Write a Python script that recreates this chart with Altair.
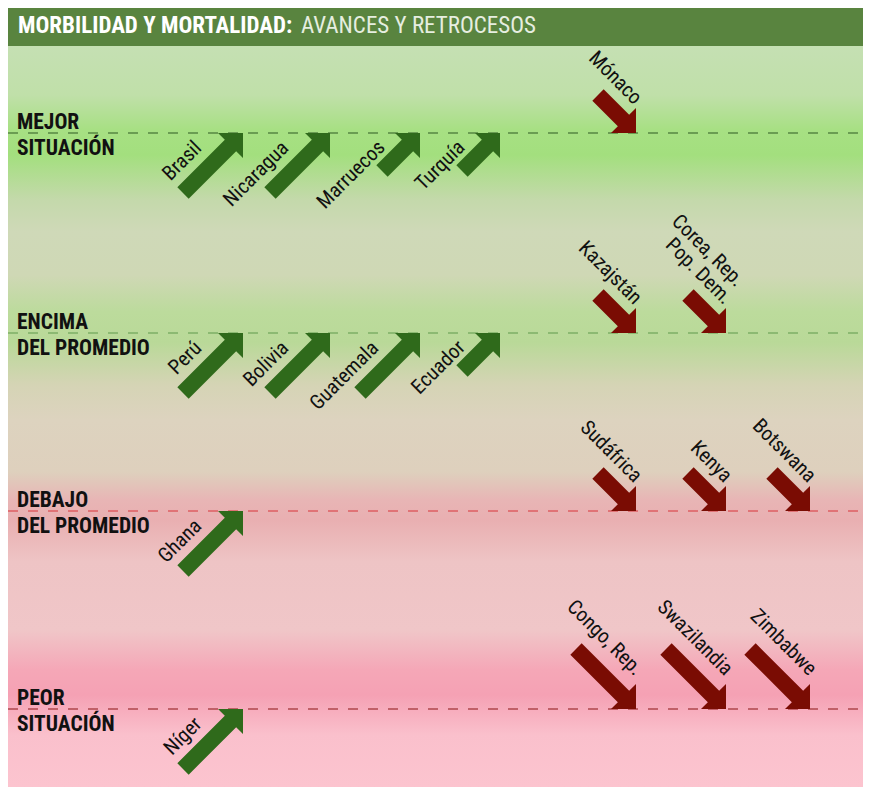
import math
import altair as alt
import pandas as pd

# ---------------- data ----------------
titulo_a = "MORBILIDAD Y MORTALIDAD:"
titulo_b = "AVANCES Y RETROCESOS"

filas = ["MEJOR\nSITUACIÓN", "ENCIMA\nDEL PROMEDIO", "DEBAJO\nDEL PROMEDIO", "PEOR\nSITUACIÓN"]
fila_num = [1, 2, 3, 4]

paises = ["Brasil", "Nicaragua", "Marruecos", "Turquía", "Mónaco",
          "Perú", "Bolivia", "Guatemala", "Ecuador", "Kazajstán", "Corea, Rep.\nPop. Dem.",
          "Ghana", "Sudáfrica", "Kenya", "Botswana",
          "Níger", "Congo, Rep.", "Swazilandia", "Zimbabwe"]
fila = [1, 1, 1, 1, 1,
        2, 2, 2, 2, 2, 2,
        3, 3, 3, 3,
        4, 4, 4, 4]
columna = [1, 2, 3, 4, 5,
           1, 2, 3, 4, 5, 6,
           1, 5, 6, 7,
           1, 5, 6, 7]
tendencia = ["sube", "sube", "sube", "sube", "baja",
             "sube", "sube", "sube", "sube", "baja", "baja",
             "sube", "baja", "baja", "baja",
             "sube", "baja", "baja", "baja"]
magnitud = ["grande", "grande", "pequeña", "pequeña", "pequeña",
            "grande", "grande", "grande", "pequeña", "pequeña", "pequeña",
            "grande", "pequeña", "pequeña", "pequeña",
            "grande", "grande", "grande", "grande"]

# ---------------- layout / style ----------------
W, H = 855, 779
FONT = "Liberation Sans Narrow, Arial Narrow, Roboto Condensed, DejaVu Sans Condensed, sans-serif"
GREEN = "#2f6a1b"
RED = "#7a0c03"

ROW_PX = [125, 325, 503, 701]
COL_PX = [235, 322, 412, 492, 628, 718, 802]


def arrow_path(L, up, head=25.0, width=16.0):
    r2 = math.sqrt(2)
    k = width / (2 * r2)
    pts = [(0, 0), (-head, 0),
           (-head / 2 - k, head / 2 - k),
           (-L - k, L - k),
           (-L + k, L + k),
           (-head / 2 + k, head / 2 + k),
           (0, head)]
    if not up:
        pts = [(x, -y) for x, y in pts]
    return "M" + " L".join(f"{x:.2f},{y:.2f}" for x, y in pts) + " Z"


LONG, SHORT = 60, 38
shape_dom = ["sube-grande", "sube-pequeña", "baja-grande", "baja-pequeña"]
shape_rng = [arrow_path(LONG, True), arrow_path(SHORT, True),
             arrow_path(LONG, False), arrow_path(SHORT, False)]

df = pd.DataFrame({"pais": paises, "fila": fila, "columna": columna,
                   "tendencia": tendencia, "magnitud": magnitud})
df["forma"] = df["tendencia"] + "-" + df["magnitud"]

rows = []
for _, r in df.iterrows():
    lines = r["pais"].split("\n")
    for i, t in enumerate(reversed(lines)):
        rows.append({"texto": t, "linea": i, "fila": r["fila"], "columna": r["columna"],
                     "tendencia": r["tendencia"], "magnitud": r["magnitud"]})
lab = pd.DataFrame(rows)

df_filas = pd.DataFrame({"fila": fila_num, "nombre": filas})
one = pd.DataFrame({"a": [0]})

xenc = alt.X("columna:Q", axis=None,
             scale=alt.Scale(domain=[1, 2, 3, 4, 5, 6, 7], range=COL_PX, zero=False, nice=False))
yenc = alt.Y("fila:Q", axis=None,
             scale=alt.Scale(domain=fila_num, range=ROW_PX, zero=False, nice=False))

# background gradient
stops_y = [46, 95, 130, 155, 200, 232, 275, 312, 342, 385, 420, 472, 500, 520, 562, 630, 670, 695, 735, 787]
stops_c = ["#c5e0b3", "#c0e0a9", "#a7e083", "#a3df7e", "#c4d9ab", "#cfd9b8", "#cfd8b5", "#bcdb9c",
           "#b9d998", "#d5d4b5", "#ddd3bf", "#ded0bd", "#e8b5b5", "#e9afb1", "#eec4c5", "#f0c6c8",
           "#f5a7b7", "#f5a1b4", "#fac0cc", "#fcc4cf"]
grad = alt.Gradient(gradient="linear", x1=0, y1=0, x2=0, y2=1,
                    stops=[alt.GradientStop(color=c, offset=(y - 46) / (787 - 46))
                           for y, c in zip(stops_y, stops_c)])
bg = alt.Chart(one).mark_rect(fill=grad).encode(
    x=alt.value(0), x2=alt.value(W), y=alt.value(38), y2=alt.value(H))

bar = alt.Chart(one).mark_rect(fill="#59843f").encode(
    x=alt.value(0), x2=alt.value(W), y=alt.value(0), y2=alt.value(38))

reglas = alt.Chart(df_filas).mark_rule(strokeDash=[10, 10], strokeWidth=1.2).encode(
    x=alt.value(0), x2=alt.value(W), y=yenc,
    stroke=alt.Stroke("nombre:N", legend=None,
                      scale=alt.Scale(domain=filas, range=["#2f5a22", "#5e9a4c", "#d8353a", "#8c1414"])))

flechas = alt.Chart(df).mark_point(filled=True, opacity=1, size=4, strokeWidth=0).encode(
    x=xenc, y=yenc,
    shape=alt.Shape("forma:N", legend=None, scale=alt.Scale(domain=shape_dom, range=shape_rng)),
    color=alt.Color("tendencia:N", legend=None,
                    scale=alt.Scale(domain=["sube", "baja"], range=[GREEN, RED])))


def etiquetas(filtro, angle, dx, dy):
    return alt.Chart(lab).transform_filter(filtro).mark_text(
        angle=angle, align="right", baseline="alphabetic", dx=dx, dy=dy,
        font=FONT, fontSize=20.5, color="#111111").encode(x=xenc, y=yenc, text="texto:N")


lab_layers = [
    etiquetas("datum.tendencia == 'sube' && datum.magnitud == 'grande'", 315, -40, -17),
    etiquetas("datum.tendencia == 'sube' && datum.magnitud == 'pequeña'", 315, -35, -13),
    etiquetas("datum.tendencia == 'baja' && datum.magnitud == 'pequeña' && datum.linea == 0", 45, -21, -18),
    etiquetas("datum.tendencia == 'baja' && datum.magnitud == 'pequeña' && datum.linea == 1", 45, -25, -39),
    etiquetas("datum.tendencia == 'baja' && datum.magnitud == 'grande'", 45, -24, -22),
]

nombres_filas = alt.Chart(df_filas).mark_text(
    align="left", baseline="alphabetic", dy=-4.5, lineBreak="\n", lineHeight=26,
    font=FONT, fontSize=21.5, fontWeight="bold", color="#111111").encode(
    x=alt.value(9), y=yenc, text="nombre:N")

t1 = alt.Chart(one).mark_text(
    text=titulo_a, align="left", baseline="alphabetic", font=FONT, fontSize=23,
    fontWeight="bold", color="#ffffff").encode(x=alt.value(10), y=alt.value(25))
t2 = alt.Chart(one).mark_text(
    text=titulo_b, align="left", baseline="alphabetic", font=FONT, fontSize=23,
    color="#e6eee0").encode(x=alt.value(293), y=alt.value(25))

chart = alt.layer(bg, bar, reglas, flechas, *lab_layers, nombres_filas, t1, t2).properties(
    width=W, height=H, padding=0, autosize=alt.AutoSizeParams(type="none"),
    background="#c5e0b3"
).configure_view(stroke=None)

chart.save("out.html", embed_options={"renderer": "svg", "actions": False})
